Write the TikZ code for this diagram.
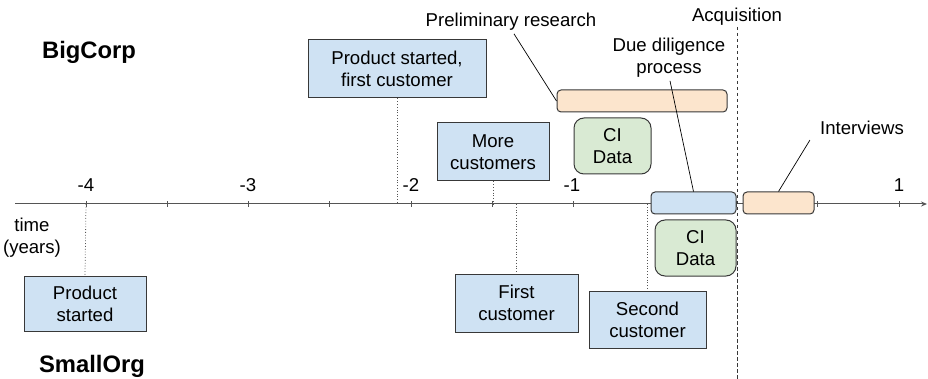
\documentclass[tikz,border=0pt]{standalone}
\usepackage{fontspec}
\setmainfont{Liberation Sans}
\usetikzlibrary{arrows.meta}
\definecolor{boxblue}{HTML}{CFE2F3}
\definecolor{boxorange}{HTML}{FCE5CD}
\definecolor{boxgreen}{HTML}{D9EAD3}
\definecolor{edge}{HTML}{383838}
\definecolor{axisgrey}{HTML}{555555}
\begin{document}
\begin{tikzpicture}[x=1pt,y=-1pt,
  every node/.style={font=\fontsize{18.6}{22}\selectfont, inner sep=0pt, align=center},
  eventbox/.style={draw=edge, line width=1pt, fill=boxblue, minimum width=#1},
  span/.style={draw=edge, line width=1pt, rounded corners=4pt, minimum height=22pt},
  cidata/.style={draw=edge, line width=1pt, fill=boxgreen, rounded corners=10pt, minimum height=56pt},
  orglabel/.style={font=\fontsize{23.8}{27}\selectfont\bfseries},
  guide/.style={dotted, draw=axisgrey, line width=0.8pt},
  callout/.style={draw=black, line width=0.7pt},
  tick/.style={draw=axisgrey, line width=0.9pt},
]
\useasboundingbox (0,0) rectangle (928,379);

% time axis
\coordinate (axstart) at (15,204);
\coordinate (axend) at (927,204);
\draw[axisgrey, line width=1pt, -{Stealth[length=6pt,width=5pt]}] (axstart) -- (axend);
\foreach \i in {0,...,10} {
  \coordinate (t\i) at ({86+81.3*\i},204);
  \draw[tick] ([yshift=-3]t\i) -- ([yshift=3]t\i);
}
\node at (86,185) {-4};
\node at (248,185) {-3};
\node at (411,185) {-2};
\node at (572,185) {-1};
\node at (899,185) {1};

\node (time) at (32,238) {time\\(years)};

% organisation labels
\node[orglabel] (big) at (89,52) {BigCorp};
\node[orglabel] (small) at (92,366) {SmallOrg};

% acquisition marker
\node (acq) at (737,17) {Acquisition};
\coordinate (acqtop) at (737,27);
\coordinate (acqbot) at (737,379);
\draw[edge, line width=0.9pt, dash pattern=on 3.5pt off 2.5pt] (acqtop) -- (acqbot);

% BigCorp events
\node[eventbox=178pt, minimum height=58pt] (psfc) at (397,69) {Product started,\\first customer};
\node[eventbox=112pt, minimum height=58pt] (more) at (493,152) {More\\customers};
\coordinate (psfcax) at (397,204);
\coordinate (moreax) at (493,204);
\draw[guide] (psfc.south) -- (psfcax);
\draw[guide] (more.south) -- (moreax);

% SmallOrg events
\node[eventbox=122pt, minimum height=55pt] (pstart) at (85,303.5) {Product\\started};
\node[eventbox=123pt, minimum height=58pt] (first) at (516.5,303) {First\\customer};
\node[eventbox=117pt, minimum height=57pt] (second) at (647.5,319.5) {Second\\customer};
\coordinate (firstax) at (516.5,204);
\coordinate (secondax) at (647.5,204);
\draw[guide] (t0) -- (pstart.north);
\draw[guide] (firstax) -- (first.north);
\draw[guide] (secondax) -- (second.north);

% activity spans
\node[span, fill=boxorange, minimum width=170pt] (prbar) at (642,101) {};
\node[span, fill=boxblue, minimum width=85pt] (ddbar) at (693.5,203) {};
\node[span, fill=boxorange, minimum width=71pt] (ivbar) at (778.5,203) {};

\node[cidata, minimum width=77pt] (ci1) at (612.5,146) {CI\\Data};
\node[cidata, minimum width=81pt] (ci2) at (695.5,248) {CI\\Data};

% callouts
\node (prtext) at (511,22) {Preliminary research};
\node (ddtext) at (669,58) {Due diligence\\process};
\node (ivtext) at (862,128) {Interviews};
\draw[callout] ([xshift=3pt,yshift=-3pt]prtext.south) -- (prbar.west);
\draw[callout] ([xshift=1pt,yshift=-3pt]ddtext.south) -- (ddbar.north);
\draw[callout] ([xshift=-10pt,yshift=-5pt]ivtext.south west) -- (ivbar.north);
\end{tikzpicture}
\end{document}
